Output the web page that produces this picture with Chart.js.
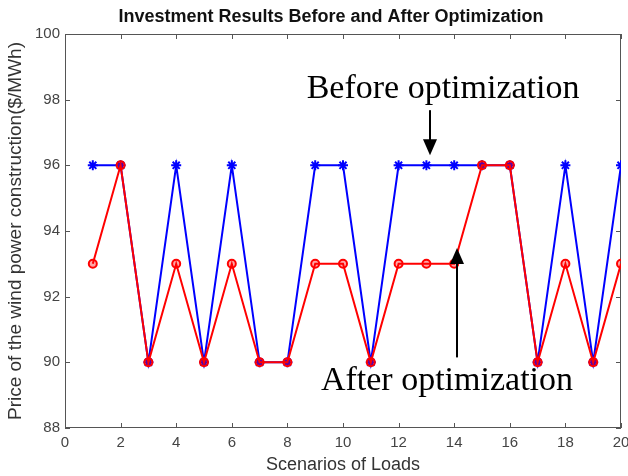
<!DOCTYPE html>
<html>
<head>
<meta charset="utf-8">
<script src="https://cdn.jsdelivr.net/npm/chart.js@4"></script>
<style>
  html, body { margin: 0; padding: 0; background: #fff; }
  #wrap { width: 628px; height: 476px; }
</style>
</head>
<body>
<div id="wrap"><canvas id="myChart"></canvas></div>
<script>
// values
const scenarios = [1,2,3,4,5,6,7,8,9,10,11,12,13,14,15,16,17,18,19,20];
const beforeOpt = [96,96,90,96,90,96,90,90,96,96,90,96,96,96,96,96,90,96,90,96];
const afterOpt  = [93,96,90,93,90,93,90,90,93,93,90,93,93,93,96,96,90,93,90,93];
const xTicks = [0,2,4,6,8,10,12,14,16,18,20];
const yTicks = [88,90,92,94,96,98,100];
const chartTitle = 'Investment Results Before and After Optimization';

function toPoints(ys) {
    return scenarios.map(function (x, i) { return {x: x, y: ys[i]}; });
}

// matlab style box with inward ticks
const boxPlugin = {
    id: 'box',
    beforeDatasetsDraw: function (chart) {
        const c = chart.ctx, a = chart.chartArea;
        const xs = chart.scales.x, ys = chart.scales.y;
        c.save();
        c.strokeStyle = '#555';
        c.lineWidth = 1;
        c.strokeRect(a.left + 0.5, a.top + 0.5, a.right - a.left - 1, a.bottom - a.top - 1);
        c.beginPath();
        xTicks.forEach(function (v) {
            const px = Math.round(xs.getPixelForValue(v)) + 0.5;
            c.moveTo(px, a.bottom); c.lineTo(px, a.bottom - 5);
            c.moveTo(px, a.top); c.lineTo(px, a.top + 5);
        });
        yTicks.forEach(function (v) {
            const py = Math.round(ys.getPixelForValue(v)) + 0.5;
            c.moveTo(a.left, py); c.lineTo(a.left + 5, py);
            c.moveTo(a.right, py); c.lineTo(a.right - 5, py);
        });
        c.stroke();
        c.restore();
    }
};

// title, plus the two text labels with arrows
const notePlugin = {
    id: 'notes',
    afterDatasetsDraw: function (chart) {
        const c = chart.ctx;
        const xs = chart.scales.x, ys = chart.scales.y;
        function arrow(xv, y0, y1) {
            const x = xs.getPixelForValue(xv);
            const p0 = ys.getPixelForValue(y0), p1 = ys.getPixelForValue(y1);
            const dir = p1 > p0 ? 1 : -1;
            c.beginPath();
            c.moveTo(x, p0); c.lineTo(x, p1 - dir * 14);
            c.stroke();
            c.beginPath();
            c.moveTo(x, p1);
            c.lineTo(x - 7, p1 - dir * 16);
            c.lineTo(x + 7, p1 - dir * 16);
            c.closePath();
            c.fill();
        }
        c.save();
        c.textAlign = 'center';
        c.textBaseline = 'middle';
        c.fillStyle = '#111';
        c.font = 'bold 18px "Liberation Sans", Arial, sans-serif';
        c.fillText(chartTitle, 331, 17);

        c.fillStyle = '#000';
        c.strokeStyle = '#000';
        c.lineWidth = 2;
        c.font = '34px "Liberation Serif", "Times New Roman", serif';
        c.fillText('Before optimization', xs.getPixelForValue(13.6), ys.getPixelForValue(98.32));
        c.fillText('After optimization', xs.getPixelForValue(13.74), ys.getPixelForValue(89.42));
        arrow(13.13, 97.68, 96.31);
        arrow(14.1, 90.15, 93.48);
        c.restore();
    }
};

const ctx = document.getElementById('myChart').getContext('2d');
var graphData = {
    type: 'line',
    data: {
        datasets: [{
            label: 'Before optimization',
            data: toPoints(beforeOpt),
            borderColor: '#0000ff',
            backgroundColor: '#0000ff',
            borderWidth: 2,
            pointStyle: 'star',
            pointRadius: 5,
            pointBorderWidth: 2,
            order: 2
        }, {
            label: 'After optimization',
            data: toPoints(afterOpt),
            borderColor: '#ff0000',
            backgroundColor: 'rgba(255,0,0,0.35)',
            borderWidth: 2,
            pointStyle: 'circle',
            pointRadius: 4,
            pointBorderWidth: 2,
            order: 1
        }]
    },
    options: {
        responsive: true,
        maintainAspectRatio: false,
        animation: false,
        layout: { padding: { left: 0, right: 7, top: 34, bottom: 0 } },
        plugins: {
            legend: { display: false },
            tooltip: { enabled: false },
            title: { display: false }
        },
        scales: {
            x: {
                type: 'linear',
                min: 0, max: 20,
                afterBuildTicks: function (s) { s.ticks = xTicks.map(function (v) { return {value: v}; }); },
                afterFit: function (s) { s.height = 48; s.paddingLeft = 0; s.paddingRight = 0; },
                grid: { display: false, drawTicks: false },
                border: { display: false },
                ticks: { color: '#444', padding: 6, font: { family: 'Liberation Sans, Arial, sans-serif', size: 15 } },
                title: {
                    display: true, text: 'Scenarios of Loads', color: '#333',
                    font: { family: 'Liberation Sans, Arial, sans-serif', size: 18 },
                    padding: { top: 0, bottom: 0 }
                }
            },
            y: {
                min: 88, max: 100,
                afterBuildTicks: function (s) { s.ticks = yTicks.map(function (v) { return {value: v}; }); },
                afterFit: function (s) { s.width = 65; s.paddingTop = 0; s.paddingBottom = 0; },
                grid: { display: false, drawTicks: false },
                border: { display: false },
                ticks: { color: '#444', padding: 5, font: { family: 'Liberation Sans, Arial, sans-serif', size: 15 } },
                title: {
                    display: true, text: 'Price of the wind power construction($/MWh)', color: '#333',
                    font: { family: 'Liberation Sans, Arial, sans-serif', size: 19 },
                    padding: { top: 4, bottom: 0 }
                }
            }
        }
    },
    plugins: [boxPlugin, notePlugin]
};
const myChart = new Chart(ctx, graphData);
</script>
</body>
</html>
